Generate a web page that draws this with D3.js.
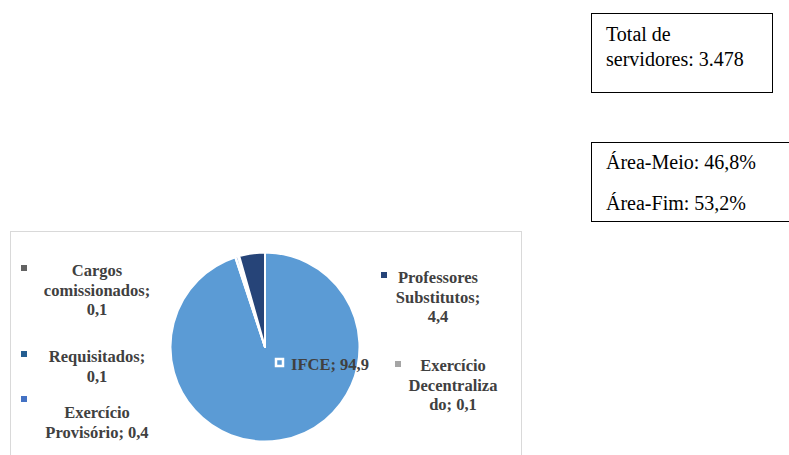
<!DOCTYPE html>
<html><head><meta charset="utf-8">
<script src="https://cdn.jsdelivr.net/npm/d3@7"></script>
<style>
html,body{margin:0;padding:0;background:#fff;}
svg{display:block;}
</style></head>
<body><svg id="c" width="789" height="455"></svg>
<script>
// Data
const categories = ["IFCE", "Exercício Decentralizado", "Exercício Provisório", "Requisitados", "Cargos comissionados", "Professores Substitutos"];
const values = [94.9, 0.1, 0.4, 0.1, 0.1, 4.4];
const valueLabels = ["94,9", "0,1", "0,4", "0,1", "0,1", "4,4"];
const colors = ["#5B9BD5", "#A5A5A5", "#4472C4", "#255E91", "#636363", "#264478"];
const totalText = ["Total de", "servidores: 3.478"];
const areaText = ["Área-Meio: 46,8%", "Área-Fim: 53,2%"];

// Label layout (line breaks and positions)
const labelLayout = [
  {lines: ["IFCE; 94,9"], x: 330, y: 370, mx: 275, my: 358, anchor: "middle", box: true},
  {lines: ["Exercício", "Decentraliza", "do; 0,1"], x: 453, y: 371, mx: 395, my: 361},
  {lines: ["Exercício", "Provisório; 0,4"], x: 97, y: 418, mx: 21, my: 396},
  {lines: ["Requisitados;", "0,1"], x: 97, y: 362, mx: 21, my: 351},
  {lines: ["Cargos", "comissionados;", "0,1"], x: 97, y: 276, mx: 21, my: 265},
  {lines: ["Professores", "Substitutos;", "4,4"], x: 438, y: 283, mx: 381, my: 272}
];

const svg = d3.select("#c");

// chart frame
svg.append("rect").attr("x", 10.5).attr("y", 231.5).attr("width", 511).attr("height", 240)
  .attr("fill", "#fff").attr("stroke", "#D9D9D9").attr("stroke-width", 1);

const cx = 265, cy = 347, r = 94.5;
const pie = d3.pie().sort(null).value(d => d)(values);
const arc = d3.arc().innerRadius(0).outerRadius(r);
const color = d3.scaleOrdinal().domain(categories).range(colors);

svg.append("g").attr("transform", `translate(${cx},${cy})`)
  .selectAll("path").data(pie).join("path")
  .attr("d", arc)
  .attr("fill", (d, i) => color(categories[i]))
  .attr("stroke", "#fff").attr("stroke-width", 2).attr("stroke-linejoin", "round");

// labels
const lg = svg.append("g");
labelLayout.forEach((L, i) => {
  if (L.box) {
    lg.append("rect").attr("x", L.mx + 1).attr("y", L.my + 1).attr("width", 7).attr("height", 7)
      .attr("fill", color(categories[i])).attr("stroke", "#fff").attr("stroke-width", 2.5);
    lg.append("text").attr("x", 291).attr("y", L.y)
      .attr("font-family", "'Liberation Serif','Times New Roman',serif")
      .attr("font-weight", "bold").attr("font-size", 16.5).attr("fill", "#404040")
      .text(categories[i] + "; " + valueLabels[i]);
    return;
  }
  lg.append("rect").attr("x", L.mx).attr("y", L.my).attr("width", 6).attr("height", 6)
    .attr("fill", color(categories[i]));
  const t = lg.append("text").attr("text-anchor", "middle")
    .attr("font-family", "'Liberation Serif','Times New Roman',serif")
    .attr("font-weight", "bold").attr("font-size", 16.5).attr("fill", "#404040");
  L.lines.forEach((ln, k) => {
    t.append("tspan").attr("x", L.x).attr("y", L.y + k * 19.5).text(ln);
  });
});

// side boxes
svg.append("rect").attr("x", 591.5).attr("y", 13.5).attr("width", 181).attr("height", 79)
  .attr("fill", "#fff").attr("stroke", "#000").attr("stroke-width", 1);
const t1 = svg.append("text").attr("font-family", "'Liberation Serif','Times New Roman',serif")
  .attr("font-size", 20).attr("fill", "#000");
totalText.forEach((ln, k) => t1.append("tspan").attr("x", 606).attr("y", 41 + k * 25).text(ln));

svg.append("rect").attr("x", 591.5).attr("y", 142.5).attr("width", 220).attr("height", 79)
  .attr("fill", "#fff").attr("stroke", "#000").attr("stroke-width", 1);
const t2 = svg.append("text").attr("font-family", "'Liberation Serif','Times New Roman',serif")
  .attr("font-size", 20).attr("fill", "#000");
areaText.forEach((ln, k) => t2.append("tspan").attr("x", 606).attr("y", 169 + k * 41).text(ln));
</script>
</body></html>
